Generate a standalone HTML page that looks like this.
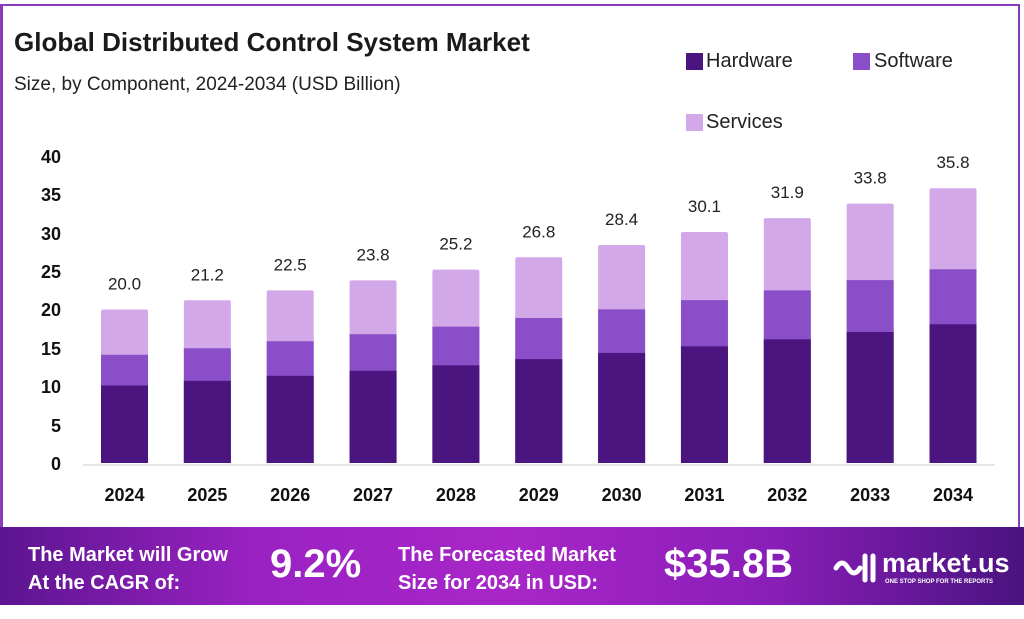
<!DOCTYPE html>
<html><head><meta charset="utf-8"><style>
body{margin:0;width:1024px;height:619px;background:#fff;overflow:hidden;font-family:"Liberation Sans",sans-serif;position:relative}
.frame{position:absolute;left:0;top:4px;width:1020px;height:540px;border-left:3px solid #8a3cb8;border-top:2px solid #8a3cb8;border-right:2px solid #8a3cb8;box-sizing:border-box}
.banner{position:absolute;left:0;top:527px;width:1024px;height:78px;background:linear-gradient(90deg,#5c1590 0%,#9a22c2 25%,#a826c8 50%,#8a1eb8 75%,#4a1380 100%)}
.t{position:absolute;white-space:nowrap}
</style></head><body>
<div class="frame"></div>
<div class="t" style="left:14px;top:27px;font-size:26px;font-weight:bold;color:#1a1a1a">Global Distributed Control System Market</div>
<div class="t" style="left:14px;top:74px;font-size:19px;color:#222">Size, by Component, 2024-2034 (USD Billion)</div>
<div style="position:absolute;left:686px;top:53px;width:17px;height:17px;background:#4b1580"></div>
<div class="t" style="left:706px;top:50px;font-size:20px;color:#222">Hardware</div>
<div style="position:absolute;left:853px;top:53px;width:17px;height:17px;background:#8a4fc8"></div>
<div class="t" style="left:874px;top:50px;font-size:20px;color:#222">Software</div>
<div style="position:absolute;left:686px;top:114px;width:17px;height:17px;background:#d3a8e8"></div>
<div class="t" style="left:706px;top:111px;font-size:20px;color:#222">Services</div>
<svg width="1024" height="619" style="position:absolute;left:0;top:0" font-family="Liberation Sans, sans-serif">
<g font-size="18" font-weight="bold" fill="#111" text-anchor="end">
<text x="61" y="470">0</text><text x="61" y="432">5</text><text x="61" y="393">10</text><text x="61" y="355">15</text><text x="61" y="316">20</text><text x="61" y="278">25</text><text x="61" y="240">30</text><text x="61" y="201">35</text><text x="61" y="163">40</text>
</g>
<line x1="83" y1="465" x2="995" y2="465" stroke="#ddd" stroke-width="1.5"/>
<g id="bars"></g>
</svg>
<div class="banner"></div>
<div class="t" style="left:28px;top:541px;font-size:20px;font-weight:bold;color:#fff;line-height:28px">The Market will Grow<br>At the CAGR of:</div>
<div class="t" style="left:270px;top:542px;font-size:40px;font-weight:bold;color:#fff">9.2%</div>
<div class="t" style="left:398px;top:541px;font-size:20px;font-weight:bold;color:#fff;line-height:28px">The Forecasted Market<br>Size for 2034 in USD:</div>
<div class="t" style="left:664px;top:542px;font-size:40px;font-weight:bold;color:#fff">$35.8B</div>
<svg style="position:absolute;left:832px;top:550px" width="46" height="36"><g fill="none" stroke="#fff" stroke-width="5" stroke-linecap="round"><path d="M4 18 Q10 8 16 18 T28 18"/><line x1="33" y1="6" x2="33" y2="30"/><line x1="41" y1="6" x2="41" y2="30"/></g></svg>
<div class="t" style="left:882px;top:548px;font-size:27px;font-weight:bold;color:#fff">market.us</div>
<div class="t" style="left:885px;top:579px;font-size:6px;font-weight:bold;color:#fff">ONE STOP SHOP FOR THE REPORTS</div>
<script>
var v=[20.0,21.2,22.5,23.8,25.2,26.8,28.4,30.1,31.9,33.8,35.8],g=document.getElementById('bars'),s='',k=7.675,b=463;
for(var i=0;i<11;i++){var c=124.5+82.85*i,x=c-23.5,t=v[i],h=t*0.505,w=t*0.2;
s+='<rect x="'+x+'" y="'+(b-t*k)+'" width="47" height="'+(t*k)+'" fill="#d3a8e8" rx="2"/>';
s+='<rect x="'+x+'" y="'+(b-(h+w)*k)+'" width="47" height="'+((h+w)*k)+'" fill="#8a4fc8"/>';
s+='<rect x="'+x+'" y="'+(b-h*k)+'" width="47" height="'+(h*k)+'" fill="#4b1580"/>';
s+='<text x="'+c+'" y="'+(b-t*k-20)+'" font-size="17" fill="#222" text-anchor="middle">'+t.toFixed(1)+'</text>';
s+='<text x="'+c+'" y="501" font-size="18" font-weight="bold" fill="#111" text-anchor="middle">'+(2024+i)+'</text>';}
g.innerHTML=s;
</script>
</body></html>
